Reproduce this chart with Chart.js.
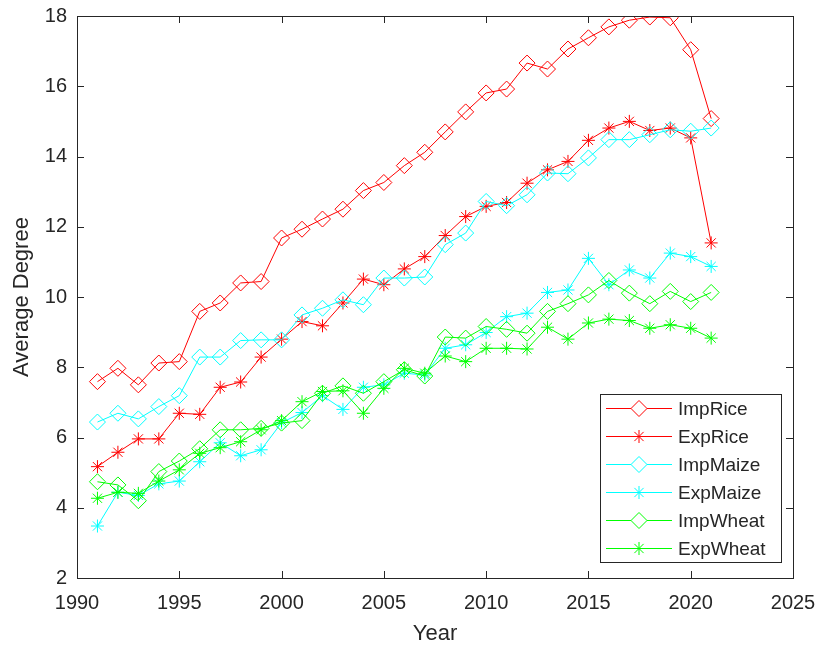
<!DOCTYPE html>
<html>
<head>
<meta charset="utf-8">
<script src="https://cdn.jsdelivr.net/npm/chart.js@4"></script>
<style>
  body { margin: 0; background: #fff; }
</style>
</head>
<body>
<canvas id="degreeChart" width="820" height="648"></canvas>
<script>
const years = [1991, 1992, 1993, 1994, 1995, 1996, 1997, 1998, 1999, 2000,
  2001, 2002, 2003, 2004, 2005, 2006, 2007, 2008, 2009, 2010,
  2011, 2012, 2013, 2014, 2015, 2016, 2017, 2018, 2019, 2020, 2021];

const impRice = [7.59, 7.97, 7.50, 8.12, 8.16, 9.59, 9.83, 10.40, 10.44, 11.68,
  11.93, 12.22, 12.50, 13.03, 13.26, 13.74, 14.12, 14.70, 15.27, 15.81,
  15.92, 16.66, 16.49, 17.06, 17.38, 17.69, 17.88, 17.97, 17.95, 17.04, 15.08];
const expRice = [5.17, 5.58, 5.96, 5.96, 6.69, 6.66, 7.43, 7.58, 8.29, 8.80,
  9.30, 9.18, 9.83, 10.51, 10.35, 10.80, 11.15, 11.75, 12.29, 12.58,
  12.69, 13.24, 13.62, 13.86, 14.46, 14.81, 15.00, 14.74, 14.81, 14.53, 11.54];
const impMaize = [6.44, 6.69, 6.53, 6.88, 7.19, 8.29, 8.29, 8.76, 8.78, 8.78,
  9.49, 9.68, 9.92, 9.78, 10.54, 10.54, 10.57, 11.49, 11.82, 12.72,
  12.60, 12.91, 13.53, 13.51, 13.96, 14.48, 14.48, 14.62, 14.76, 14.72, 14.81];
const expMaize = [3.48, 4.44, 4.35, 4.68, 4.76, 5.31, 5.85, 5.48, 5.65, 6.42,
  6.71, 7.19, 6.80, 7.43, 7.50, 7.83, 7.78, 8.54, 8.64, 8.99,
  9.44, 9.54, 10.13, 10.20, 11.10, 10.35, 10.77, 10.54, 11.25, 11.15, 10.87];
const impWheat = [4.74, 4.65, 4.20, 5.03, 5.33, 5.68, 6.22, 6.22, 6.26, 6.41,
  6.48, 7.26, 7.47, 7.26, 7.59, 7.93, 7.75, 8.86, 8.83, 9.16,
  9.08, 8.97, 9.59, 9.81, 10.06, 10.47, 10.11, 9.81, 10.16, 9.87, 10.13];
const expWheat = [4.27, 4.44, 4.41, 4.76, 5.08, 5.55, 5.71, 5.88, 6.22, 6.48,
  7.02, 7.31, 7.33, 6.69, 7.40, 7.97, 7.83, 8.32, 8.16, 8.54,
  8.54, 8.52, 9.14, 8.80, 9.26, 9.37, 9.33, 9.11, 9.21, 9.11, 8.83];

const seriesNames = ["ImpRice", "ExpRice", "ImpMaize", "ExpMaize", "ImpWheat", "ExpWheat"];
const seriesValues = [impRice, expRice, impMaize, expMaize, impWheat, expWheat];
const seriesColors = ["#FF0000", "#FF0000", "#00FFFF", "#00FFFF", "#00FF00", "#00FF00"];
const seriesMarkers = ["rectRot", "star", "rectRot", "star", "rectRot", "star"];

const axisColor = "#262626";
const fontFamily = "'Liberation Sans', Arial, sans-serif";

function markerRadius(style) {
  return style === "rectRot" ? 8 : 6.5;
}

// box around the plot + inward ticks on all four sides (matlab style)
const boxPlugin = {
  id: "box",
  afterDraw(chart) {
    const { ctx, chartArea: a, scales } = chart;
    const len = 7;
    ctx.save();
    ctx.strokeStyle = axisColor;
    ctx.lineWidth = 1;
    ctx.strokeRect(Math.round(a.left) + 0.5, Math.round(a.top) + 0.5,
      Math.round(a.right - a.left), Math.round(a.bottom - a.top));
    ctx.beginPath();
    scales.x.ticks.forEach(t => {
      const x = Math.round(scales.x.getPixelForValue(t.value)) + 0.5;
      ctx.moveTo(x, a.bottom); ctx.lineTo(x, a.bottom - len);
      ctx.moveTo(x, a.top); ctx.lineTo(x, a.top + len);
    });
    scales.y.ticks.forEach(t => {
      const y = Math.round(scales.y.getPixelForValue(t.value)) + 0.5;
      ctx.moveTo(a.left, y); ctx.lineTo(a.left + len, y);
      ctx.moveTo(a.right, y); ctx.lineTo(a.right - len, y);
    });
    ctx.stroke();
    ctx.restore();
  }
};

// legend with line through marker, lower right
const legendPlugin = {
  id: "matlabLegend",
  afterDraw(chart) {
    const ctx = chart.ctx;
    const box = { left: 600, top: 394, right: 781, bottom: 562 };
    const rowH = (box.bottom - box.top) / chart.data.datasets.length;
    ctx.save();
    ctx.fillStyle = "#fff";
    ctx.fillRect(box.left, box.top, box.right - box.left, box.bottom - box.top);
    ctx.strokeStyle = axisColor;
    ctx.lineWidth = 1;
    ctx.strokeRect(box.left + 0.5, box.top + 0.5, box.right - box.left, box.bottom - box.top);
    ctx.font = "19px " + fontFamily;
    ctx.textBaseline = "middle";
    chart.data.datasets.forEach((ds, i) => {
      const y = Math.round(box.top + rowH * (i + 0.5)) + 0.5;
      ctx.strokeStyle = ds.borderColor;
      ctx.lineWidth = 1;
      ctx.beginPath();
      ctx.moveTo(606, y); ctx.lineTo(672, y);
      ctx.stroke();
      ctx.fillStyle = "#fff";
      Chart.helpers.drawPoint(ctx, {
        pointStyle: ds.pointStyle,
        radius: ds.pointRadius,
        borderWidth: 1,
        rotation: 0
      }, 639, y);
      ctx.fillStyle = axisColor;
      ctx.fillText(ds.label, 678, y + 1);
    });
    ctx.restore();
  }
};

const datasets = seriesNames.map((name, i) => ({
  label: name,
  data: years.map((yr, k) => ({ x: yr, y: seriesValues[i][k] })),
  borderColor: seriesColors[i],
  borderWidth: 1,
  pointStyle: seriesMarkers[i],
  pointRadius: markerRadius(seriesMarkers[i]),
  pointBorderColor: seriesColors[i],
  pointBackgroundColor: "rgba(0,0,0,0)",
  pointBorderWidth: 1,
  tension: 0,
  fill: false,
  order: seriesNames.length - i
}));

new Chart(document.getElementById("degreeChart"), {
  type: "line",
  data: { datasets },
  options: {
    responsive: false,
    animation: false,
    devicePixelRatio: 1,
    layout: { padding: { top: 16, right: 27, left: 0, bottom: 0 } },
    plugins: {
      legend: { display: false },
      tooltip: { enabled: false }
    },
    scales: {
      x: {
        type: "linear",
        min: 1990,
        max: 2025,
        ticks: {
          stepSize: 5,
          color: axisColor,
          font: { family: fontFamily, size: 20 },
          padding: 5,
          maxRotation: 0,
          callback: v => String(v)
        },
        grid: { display: false },
        border: { display: false },
        title: {
          display: true,
          text: "Year",
          color: axisColor,
          font: { family: fontFamily, size: 22 },
          padding: { top: 0, bottom: 1 }
        },
        afterFit(scale) {
          scale.height = 70;
          scale.paddingLeft = 0;
          scale.paddingRight = 0;
        }
      },
      y: {
        min: 2,
        max: 18,
        ticks: {
          stepSize: 2,
          color: axisColor,
          font: { family: fontFamily, size: 20 },
          padding: 2
        },
        grid: { display: false },
        border: { display: false },
        title: {
          display: true,
          text: "Average Degree",
          color: axisColor,
          font: { family: fontFamily, size: 22 },
          padding: { top: 9, bottom: 0 }
        },
        afterFit(scale) {
          scale.width = 77;
          scale.paddingTop = 0;
          scale.paddingBottom = 0;
        }
      }
    }
  },
  plugins: [boxPlugin, legendPlugin]
});
</script>
</body>
</html>
